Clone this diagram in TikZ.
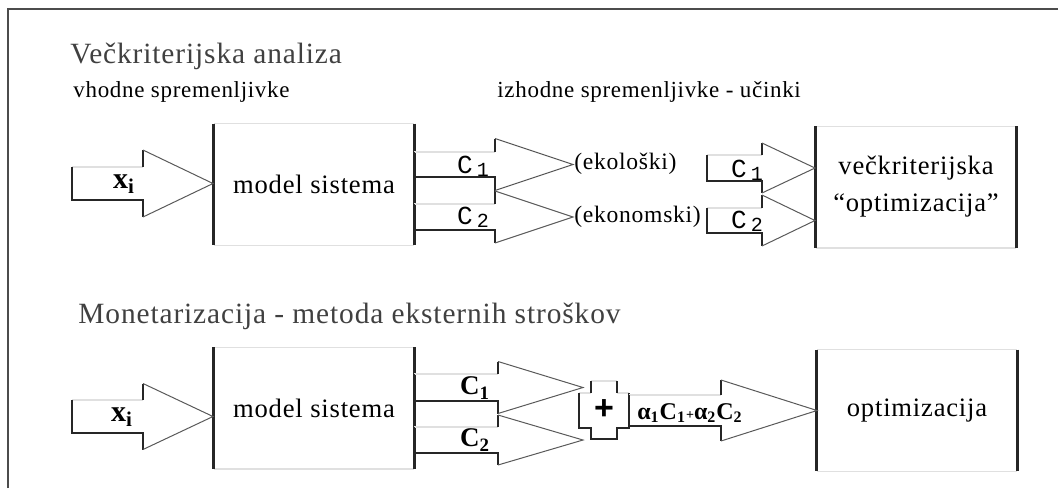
\documentclass[tikz,border=0pt]{standalone}
\usepackage{fontspec}
\setmainfont[LetterSpace=3]{Liberation Serif}
\newfontfamily\labfont{Liberation Serif}
\newfontfamily\monofont{Liberation Mono}
\newfontfamily\plusfont{Liberation Sans}

% block arrow: tail x, head base x, tip x, centre y, half shaft, half head
\newcommand\barrow[6]{%
  \draw[faint] (#1,#4-#5) -- (#2,#4-#5);
  \draw[dark] (#1,#4-#5) -- (#1,#4+#5) -- (#2,#4+#5) -- (#2,#4+#6);
  \draw[dark] (#2,#4-#5) -- (#2,#4-#6);
  \draw[edge] (#2,#4-#6) -- (#3,#4) -- (#2,#4+#6);
}
% box with dark sides only
\newcommand\boxsides[1]{%
  \draw[faint] (#1.north west) -- (#1.north east) (#1.south west) -- (#1.south east);
  \draw[dark, line width=1.2pt] (#1.north west) -- (#1.south west) (#1.north east) -- (#1.south east);
}
\newcommand\monoC[1]{{\monofont C\,\raisebox{-1.5pt}{\fontsize{10}{10}\selectfont #1}}}

\tikzset{
  dark/.style={draw=black!85, line width=0.8pt},
  faint/.style={draw=black!12, line width=0.6pt},
  edge/.style={draw=black!65, line width=0.5pt},
  title/.style={text=black!75, font=\fontsize{14.7}{17}\selectfont, anchor=base west, inner sep=0pt},
  note/.style={font=\fontsize{11.5}{13}\selectfont, anchor=base west, inner sep=0pt},
  box/.style={minimum width=100pt, minimum height=60.5pt, inner sep=0pt, align=center,
    font=\fontsize{13.3}{18.5}\selectfont},
  lab/.style={inner sep=0pt, font=\labfont\bfseries\fontsize{13}{13}\selectfont},
  mono/.style={inner sep=0pt, font=\fontsize{13}{13}\selectfont}
}

\begin{document}
\begin{tikzpicture}[x=0.5pt,y=-0.5pt]
  \useasboundingbox (0,0) rectangle (1058,488);
  \draw[draw=black!70, line width=0.8pt] (8,488) -- (8,9) -- (1058,9);

  % Veckriterijska analiza
  \node[title] (tA) at (70,63) {Večkriterijska analiza};
  \node[note] (inA) at (73,97) {vhodne spremenljivke};
  \node[note] (outA) at (497,97) {izhodne spremenljivke - učinki};

  \node[box] (msA) at (314,184.5) {model sistema};
  \node[box] (optA) at (916,187) {večkriterijska\\“optimizacija”};
  \boxsides{msA}
  \boxsides{optA}

  \barrow{72}{143}{213}{183.5}{16.5}{33.5}
  \node[lab, font=\labfont\bfseries\fontsize{15}{15}\selectfont] (xA) at (124,184) {x\textsubscript{i}};

  \barrow{414}{495}{573}{164.5}{12.5}{26}
  \barrow{414}{495}{573}{217}{13}{26}
  \node[mono] (c1A) at (473,166) {\monoC{1}};
  \node[mono] (c2A) at (473,217) {\monoC{2}};
  \node[note, anchor=west, font=\fontsize{11.8}{13}\selectfont] (eko) at (574,164) {(ekološki)};
  \node[note, anchor=west, font=\fontsize{11.8}{13}\selectfont] (ekon) at (574,217) {(ekonomski)};

  \barrow{707}{762}{815}{168}{13}{25}
  \barrow{707}{762}{815}{220.5}{12.5}{25.5}
  \node[mono] (c1R) at (747,170) {\monoC{1}};
  \node[mono] (c2R) at (747,221) {\monoC{2}};

  % Monetarizacija
  \node[title] (tB) at (78,323) {Monetarizacija - metoda eksternih stroškov};

  \node[box] (msB) at (314,408) {model sistema};
  \node[box] (optB) at (917,410.5) {optimizacija};
  \boxsides{msB}
  \boxsides{optB}

  \barrow{72}{143}{213}{416.5}{16.5}{33}
  \node[lab, font=\labfont\bfseries\fontsize{15}{15}\selectfont] (xB) at (122,417) {x\textsubscript{i}};

  \barrow{414}{498}{583}{387.5}{13.5}{26}
  \barrow{414}{498}{583}{440}{13}{25}
  \node[lab, font=\labfont\bfseries\fontsize{13.5}{14}\selectfont] (c1B) at (475,388) {C\textsubscript{1}};
  \node[lab, font=\labfont\bfseries\fontsize{13.5}{14}\selectfont] (c2B) at (475,440) {C\textsubscript{2}};

  \node[inner sep=0pt, font=\plusfont\bfseries\fontsize{17}{17}\selectfont] (sum) at (604,410) {+};
  \draw[faint] (591,381) -- (617,381) (579,393) -- (591,393) (617,393) -- (629,393);
  \draw[dark] (591,393) -- (591,381) (617,381) -- (617,393);
  \draw[dark] (629,393) -- (629,428) -- (617,428) -- (617,439) -- (591,439) -- (591,428) -- (579,428) -- (579,393);

  \barrow{629}{721}{817}{410.5}{15.5}{30.5}
  \node[lab, font=\labfont\bfseries\fontsize{12}{12}\selectfont] (sumC) at (690,413)
    {α\textsubscript{1}C\textsubscript{1}{\scriptsize +}α\textsubscript{2}C\textsubscript{2}};
\end{tikzpicture}
\end{document}
